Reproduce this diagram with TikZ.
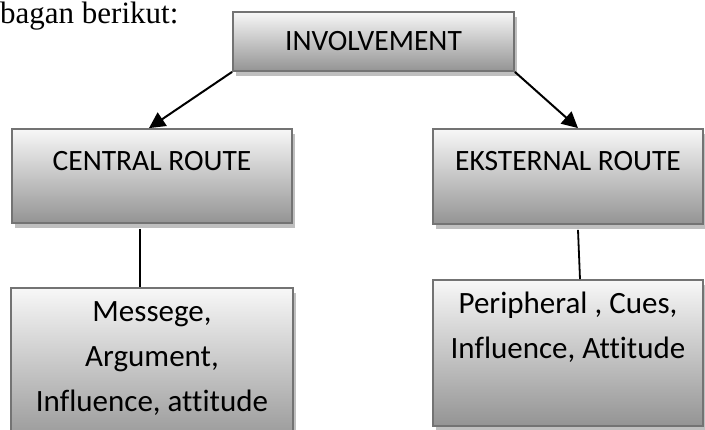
\documentclass[tikz,border=0pt]{standalone}
\usepackage{fontspec}
\setmainfont{Carlito}[Ligatures=NoCommon]
\newfontfamily\judulfont{Liberation Serif}
\usetikzlibrary{arrows.meta,shadows}
\tikzset{
kotak/.style={
 draw=black!55,
 line width=1.8pt,
 top color=black!3,
 bottom color=black!42,
 drop shadow={shadow xshift=2.5pt, shadow yshift=-5pt, fill=black!25, opacity=1},
 inner sep=0pt,
 font=\fontsize{29.5}{45}\selectfont
 },
isi/.style={
 anchor=north,
 yshift=-#1,
 inner sep=0pt,
 align=center,
 font=\fontsize{29.5}{45}\selectfont
 },
isibawah/.style={
 isi=#1,
 font=\fontsize{31}{45}\selectfont
 },
panah/.style={
 draw=black,
 line width=2pt,
 -{Triangle[length=16pt,width=16pt]}
 },
garis/.style={
 draw=black,
 line width=1.8pt
 }
}

\begin{document}
\begin{tikzpicture}[x=1pt,y=-1pt]
\useasboundingbox (0,0) rectangle (705,429);
\node[anchor=base west,inner sep=0pt,font=\judulfont\fontsize{31}{40}\selectfont] (judul) at (0,23) {bagan berikut:};
\node[kotak,minimum width=281pt,minimum height=59pt] (inv) at (373.5,41.5) {INVOLVEMENT};
\node[kotak,minimum width=280pt,minimum height=94pt,label={[isi=23pt]north:CENTRAL ROUTE}] (cen) at (152,176) {};
\node[kotak,minimum width=270pt,minimum height=95pt,label={[isi=23pt]north:EKSTERNAL ROUTE}] (eks) at (568,176.5) {};
\node[kotak,anchor=north,minimum width=282pt,minimum height=160pt,label={[isibawah=14pt]north:Messege,\\Argument,\\Influence, attitude}] (msg) at (152,287) {};
\node[kotak,minimum width=270pt,minimum height=146pt,label={[isibawah=13pt]north:Peripheral , Cues,\\Influence, Attitude}] (per) at (568,353) {};
\draw[panah] (inv.south west) -- ([xshift=-3pt]cen.north);
\draw[panah] (inv.south east) -- ([xshift=10pt]eks.north);
\draw[garis] ([xshift=-12pt,yshift=-5pt]cen.south) -- ([xshift=-12pt]msg.north);
\draw[garis] ([xshift=10pt,yshift=-5pt]eks.south) -- ([xshift=12pt]per.north);
\end{tikzpicture}
\end{document}
